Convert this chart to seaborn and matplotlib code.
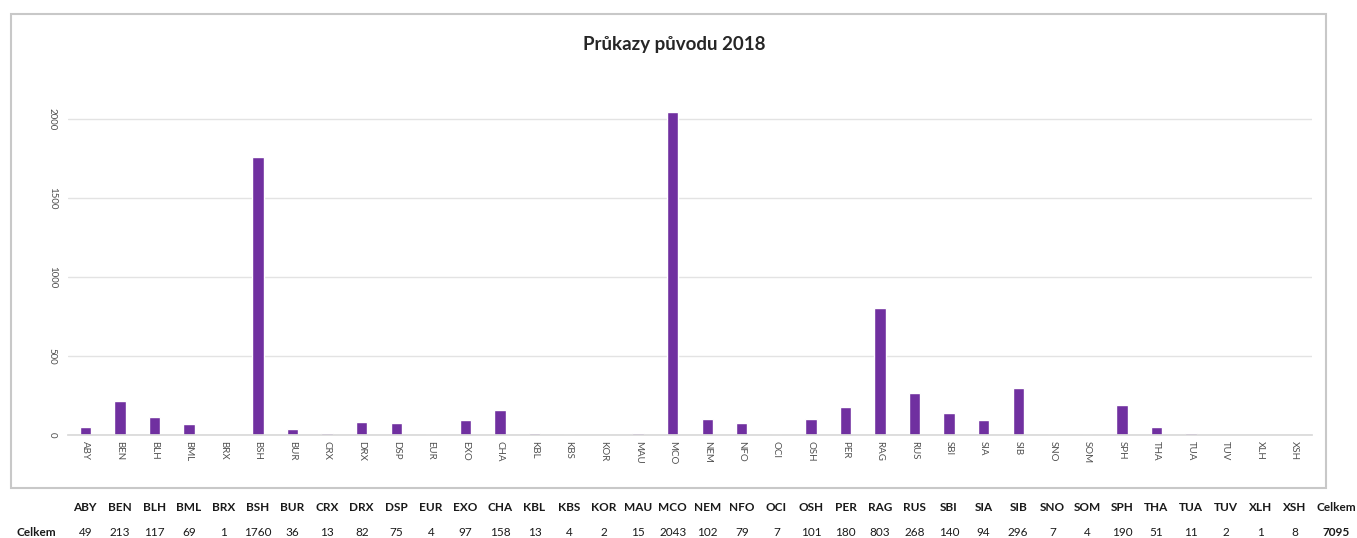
import numpy as np
import pandas as pd
import matplotlib
matplotlib.use('Agg')
import matplotlib.pyplot as plt
import seaborn as sns
from matplotlib.patches import Rectangle
from matplotlib.transforms import blended_transform_factory

#------------------------------------------------------------------------------
# data
breeds = ['ABY', 'BEN', 'BLH', 'BML', 'BRX', 'BSH', 'BUR', 'CRX', 'DRX', 'DSP',
          'EUR', 'EXO', 'CHA', 'KBL', 'KBS', 'KOR', 'MAU', 'MCO', 'NEM', 'NFO',
          'OCI', 'OSH', 'PER', 'RAG', 'RUS', 'SBI', 'SIA', 'SIB', 'SNO', 'SOM',
          'SPH', 'THA', 'TUA', 'TUV', 'XLH', 'XSH']
counts = [49, 213, 117, 69, 1, 1760, 36, 13, 82, 75,
          4, 97, 158, 13, 4, 2, 15, 2043, 102, 79,
          7, 101, 180, 803, 268, 140, 94, 296, 7, 4,
          190, 51, 11, 2, 1, 8]
total_label = 'Celkem'
total = 7095
title = 'Průkazy původu 2018'

df = pd.DataFrame({'breed': breeds, 'count': counts})
#------------------------------------------------------------------------------
sns.set_theme(style='white')
plt.rcParams['font.family'] = ['Lato', 'DejaVu Sans']

fig = plt.figure(figsize=(13.57, 5.38), dpi=100)
ax = fig.add_axes([0.0501, 0.1914, 0.9167, 0.6172])

sns.barplot(data=df, x='breed', y='count', color='#7030A0', width=0.33,
            saturation=1, ax=ax)

ax.set_ylim(0, 2100)
ax.set_yticks([0, 500, 1000, 1500, 2000])
ax.yaxis.grid(True, color='#e3e3e3', linewidth=1)
ax.set_axisbelow(True)
for s in ['top', 'right', 'left']:
    ax.spines[s].set_visible(False)
ax.spines['bottom'].set_color('#d9d9d9')
ax.set_xlabel('')
ax.set_ylabel('')
ax.tick_params(axis='x', labelrotation=-90, labelsize=7, colors='#505050',
               length=0, pad=4)
ax.tick_params(axis='y', labelrotation=-90, labelsize=7, colors='#505050',
               length=0, pad=8)
for t in ax.get_yticklabels():
    t.set_va('center')

# frame around the chart
fig.patches.append(Rectangle((0.0081, 0.0929), 0.969, 0.881, transform=fig.transFigure,
                             fill=False, edgecolor='#c8c8c8', linewidth=1.5))

fig.text(0.497, 0.918, title, ha='center', va='center', fontsize=13.5,
         fontweight='bold', color='#262626')

#------------------------------------------------------------------------------
# table under the chart
tr = blended_transform_factory(ax.transData, fig.transFigure)
for i, (b, c) in enumerate(zip(breeds, counts)):
    ax.text(i, 0.057, b, transform=tr, ha='center', va='center', fontsize=8.5,
            fontweight='bold', color='#1a1a1a', clip_on=False)
    ax.text(i, 0.011, str(c), transform=tr, ha='center', va='center', fontsize=8.5,
            color='#1a1a1a', clip_on=False)
ax.text(len(breeds) + 0.2, 0.057, total_label, transform=tr, ha='center', va='center',
        fontsize=8.5, fontweight='bold', color='#1a1a1a', clip_on=False)
ax.text(len(breeds) + 0.2, 0.011, str(total), transform=tr, ha='center', va='center',
        fontsize=8.5, fontweight='bold', color='#1a1a1a', clip_on=False)
fig.text(0.0265, 0.011, total_label, ha='center', va='center', fontsize=8.5,
         fontweight='bold', color='#1a1a1a')

plt.savefig('out.png', dpi=100)
